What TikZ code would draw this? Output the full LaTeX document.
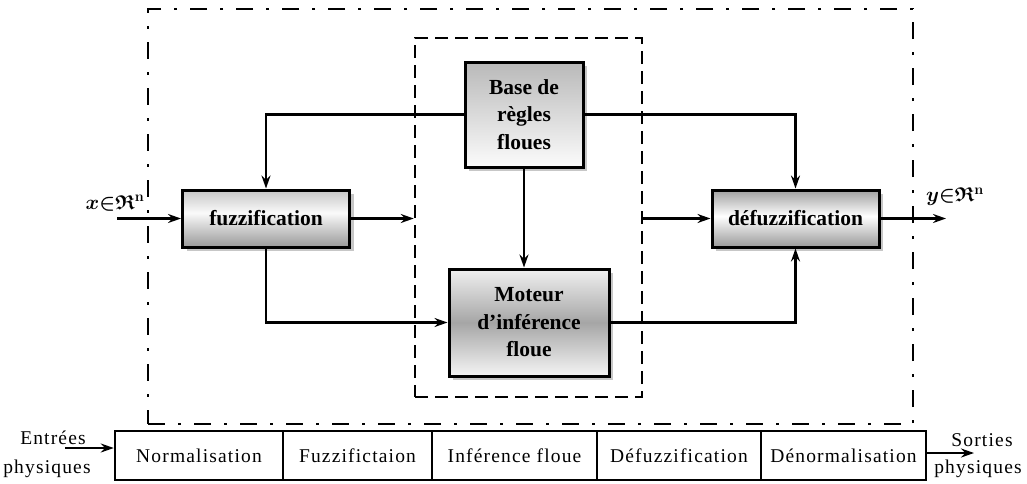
\documentclass[tikz,border=0pt]{standalone}
\usepackage{fontspec}
\usepackage{amsfonts}
\setmainfont{Liberation Serif}
\newfontfamily\spacedfont[LetterSpace=6]{Liberation Serif}
\usetikzlibrary{arrows.meta,shadows}

% vertical shadings (TikZ maps the path onto the 25bp--75bp band)
\pgfdeclareverticalshading{fuzzsh}{100bp}{color(0bp)=(gray!80); color(25bp)=(gray!80); color(55bp)=(white!96!gray); color(75bp)=(gray!45); color(100bp)=(gray!45)}
\pgfdeclareverticalshading{defuzzsh}{100bp}{color(0bp)=(gray!80); color(25bp)=(gray!80); color(52bp)=(white); color(75bp)=(gray!75); color(100bp)=(gray!75)}
\pgfdeclareverticalshading{basesh}{100bp}{color(0bp)=(white); color(25bp)=(white!97!gray); color(75bp)=(gray!55); color(100bp)=(gray!55)}
\pgfdeclareverticalshading{motsh}{100bp}{color(0bp)=(white!92!gray); color(25bp)=(white!92!gray); color(50bp)=(gray!70); color(75bp)=(white!88!gray); color(100bp)=(white!88!gray)}

\tikzset{
  block/.style={draw=black, line width=3pt, inner sep=0pt, align=center,
    font=\fontsize{21.5}{27.5}\selectfont\bfseries,
    drop shadow={shadow xshift=4pt, shadow yshift=-4pt, fill=gray!55, opacity=0.8}},
  link/.style={line width=2.2pt, -{Stealth[length=13pt,width=9pt]}},
  stage/.style={draw=black, line width=2.5pt, inner sep=0pt, minimum height=49pt,
    font=\spacedfont\fontsize{19.5}{22}\selectfont},
  note/.style={inner sep=0pt, font=\spacedfont\fontsize{19.5}{22}\selectfont},
  mathlabel/.style={inner sep=0pt, font=\fontsize{20}{24}\selectfont\boldmath},
  outerframe/.style={draw=black, line width=2.5pt,
    dash pattern=on 17pt off 13pt on 3pt off 13pt},
  innerframe/.style={draw=black, line width=2.5pt, dash pattern=on 13pt off 7pt},
}

\begin{document}
\begin{tikzpicture}[x=1pt, y=-1pt]
\useasboundingbox (0,0) rectangle (1027,483);

% frames
\node[outerframe, minimum width=765pt, minimum height=415pt] (sys) at (530.5,216.5) {};
\node[innerframe, minimum width=227pt, minimum height=359pt] (core) at (528.5,217.5) {};

% blocks
\node[block, shading=fuzzsh, minimum width=167pt, minimum height=57pt] (fuzz) at (266,218.5) {fuzzification};
\node[block, shading=basesh, minimum width=118pt, minimum height=105pt] (base) at (524,114.5) {Base de\\règles\\floues};
\node[block, shading=defuzzsh, minimum width=167pt, minimum height=57pt] (defuzz) at (795.5,218.5) {défuzzification};
\node[block, shading=motsh, minimum width=160pt, minimum height=107pt] (mot) at (529,322.5) {Moteur\\d’inférence\\floue};

% input / output
\coordinate (xin) at (117,218.5);
\coordinate (yout) at (946,218.5);
\node[mathlabel] (xlab) at (115,203) {$x{\in}\mathfrak{R}^{\mathbf{n}}$};
\node[mathlabel] (ylab) at (955,197) {$y{\in}\mathfrak{R}^{\mathbf{n}}$};
\draw[link] (xin) -- (fuzz.west);
\draw[link] (defuzz.east) -- (yout);

% connectors
\draw[link] (base.west) -| (fuzz.north);
\draw[link] (base.east) -| (defuzz.north);
\draw[link] (base.south) -- (base.south |- mot.north);
\draw[link] (fuzz.south) |- (mot.west);
\draw[link] (mot.east) -| (defuzz.south);
\draw[link] (fuzz.east) -- (fuzz.east -| core.west);
\draw[link] (core.east |- defuzz.west) -- (defuzz.west);

% processing chain
\node[stage, minimum width=168pt] (n1) at (199,455.5) {Normalisation};
\node[stage, minimum width=149pt] (n2) at (357.5,455.5) {Fuzzifictaion};
\node[stage, minimum width=165pt] (n3) at (514.5,455.5) {Inférence floue};
\node[stage, minimum width=164pt] (n4) at (679,455.5) {Défuzzification};
\node[stage, minimum width=165pt] (n5) at (843.5,455.5) {Dénormalisation};

\node[note] (ein1) at (53,438) {Entrées};
\node[note] (ein2) at (47,469) {physiques};
\node[note] (sout1) at (982,440) {Sorties};
\node[note] (sout2) at (978,469) {physiques};
\coordinate (ein) at (65,448);
\coordinate (sout) at (974,453);
\draw[link] (ein) -- (ein -| n1.west);
\draw[link] (sout -| n5.east) -- (sout);
\end{tikzpicture}
\end{document}
